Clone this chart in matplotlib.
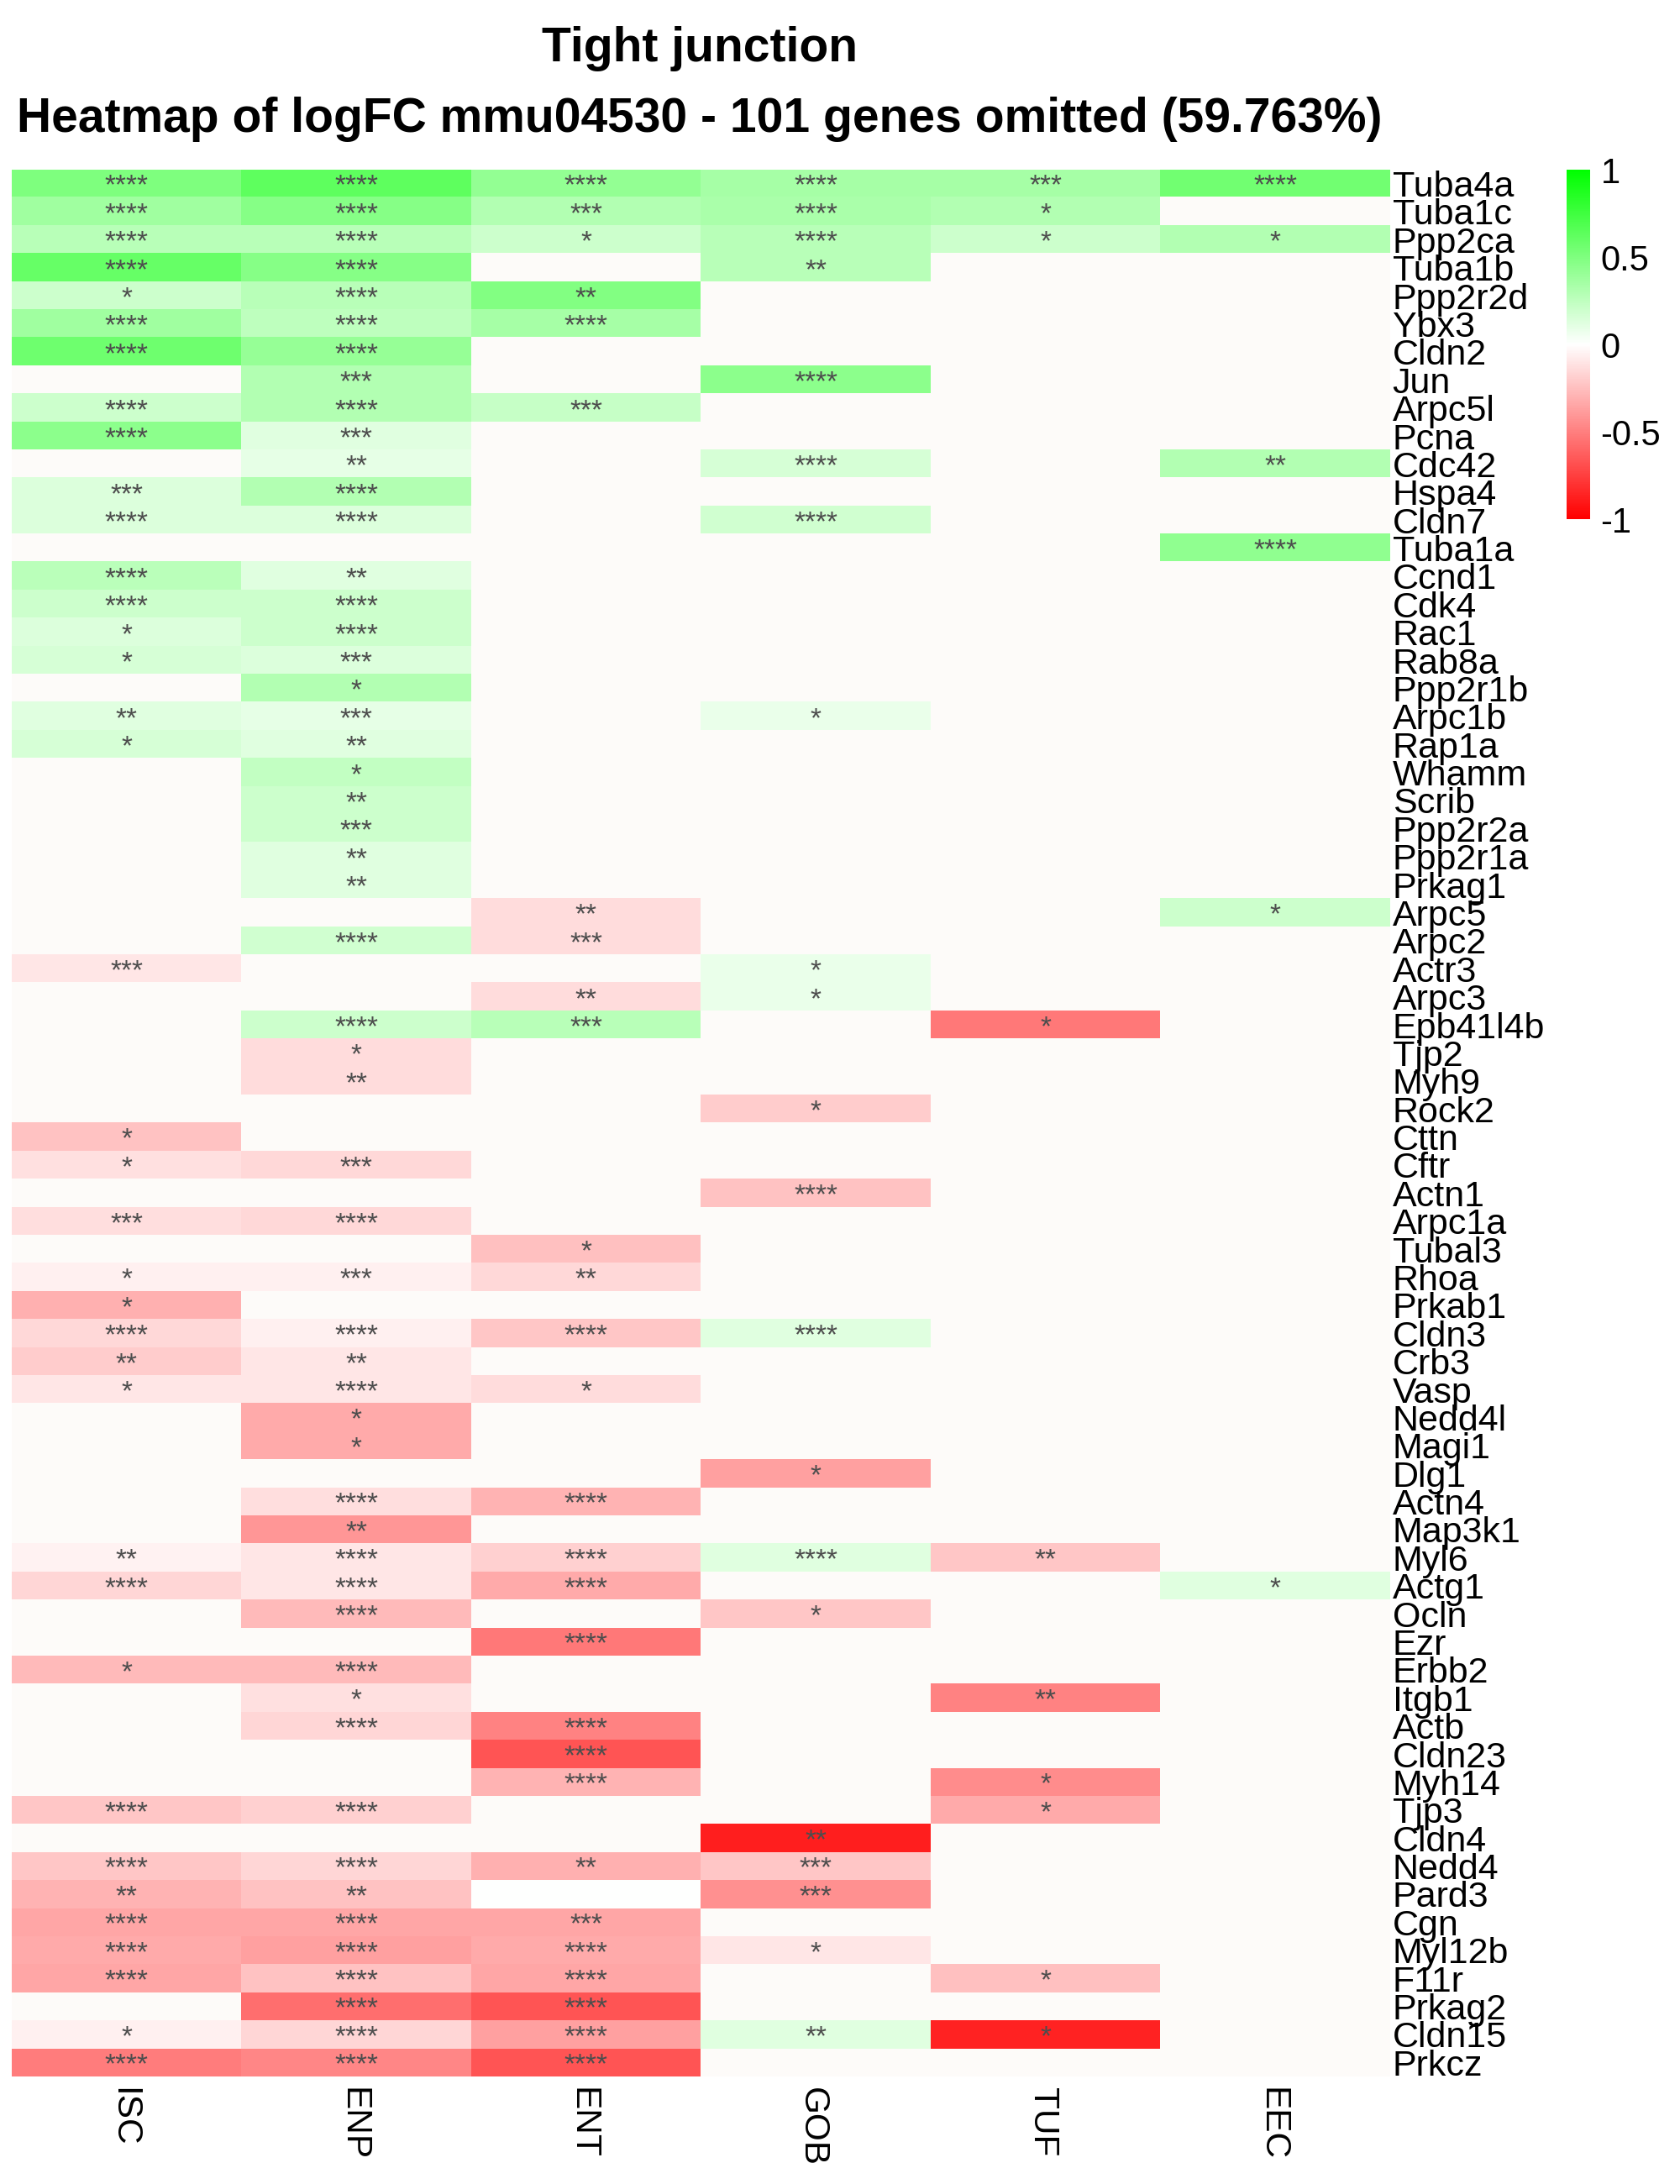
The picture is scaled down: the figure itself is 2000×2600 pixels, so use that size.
import numpy as np
import matplotlib
matplotlib.use('Agg')
import matplotlib.pyplot as plt
from matplotlib.colors import LinearSegmentedColormap

plt.rcParams['font.family'] = ['Liberation Sans', 'DejaVu Sans']
plt.rcParams['axes.unicode_minus'] = False

nan = np.nan

# KEGG tight junction genes, top to bottom
genes = ['Tuba4a', 'Tuba1c', 'Ppp2ca', 'Tuba1b', 'Ppp2r2d', 'Ybx3', 'Cldn2', 'Jun', 'Arpc5l', 'Pcna',
         'Cdc42', 'Hspa4', 'Cldn7', 'Tuba1a', 'Ccnd1', 'Cdk4', 'Rac1', 'Rab8a', 'Ppp2r1b', 'Arpc1b',
         'Rap1a', 'Whamm', 'Scrib', 'Ppp2r2a', 'Ppp2r1a', 'Prkag1', 'Arpc5', 'Arpc2', 'Actr3', 'Arpc3',
         'Epb41l4b', 'Tjp2', 'Myh9', 'Rock2', 'Cttn', 'Cftr', 'Actn1', 'Arpc1a', 'Tubal3', 'Rhoa',
         'Prkab1', 'Cldn3', 'Crb3', 'Vasp', 'Nedd4l', 'Magi1', 'Dlg1', 'Actn4', 'Map3k1', 'Myl6',
         'Actg1', 'Ocln', 'Ezr', 'Erbb2', 'Itgb1', 'Actb', 'Cldn23', 'Myh14', 'Tjp3', 'Cldn4',
         'Nedd4', 'Pard3', 'Cgn', 'Myl12b', 'F11r', 'Prkag2', 'Cldn15', 'Prkcz']

cell_types = ['ISC', 'ENP', 'ENT', 'GOB', 'TUF', 'EEC']

# logFC per cell type (nan = not significant)
isc = [0.50, 0.37, 0.28, 0.60, 0.20, 0.37, 0.57, nan, 0.20, 0.45,
       nan, 0.14, 0.14, nan, 0.27, 0.20, 0.14, 0.16, nan, 0.12,
       0.16, nan, nan, nan, nan, nan, nan, nan, -0.10, nan,
       nan, nan, nan, nan, -0.24, -0.12, nan, -0.13, nan, -0.06,
       -0.31, -0.15, -0.20, -0.10, nan, nan, nan, nan, nan, -0.05,
       -0.16, nan, nan, -0.27, nan, nan, nan, nan, -0.22, nan,
       -0.22, -0.29, -0.35, -0.33, -0.35, nan, -0.06, -0.51]
enp = [0.63, 0.47, 0.28, 0.47, 0.28, 0.25, 0.41, 0.30, 0.30, 0.12,
       0.10, 0.30, 0.14, nan, 0.12, 0.20, 0.20, 0.14, 0.30, 0.10,
       0.12, 0.24, 0.20, 0.20, 0.12, 0.12, nan, 0.18, nan, nan,
       0.20, -0.14, -0.14, nan, nan, -0.15, nan, -0.15, nan, -0.06,
       nan, -0.06, -0.10, -0.10, -0.33, -0.33, nan, -0.13, -0.41, -0.10,
       -0.10, -0.27, nan, -0.27, -0.12, -0.16, nan, nan, -0.18, nan,
       -0.16, -0.24, -0.35, -0.37, -0.24, -0.57, -0.16, -0.47]
ent = [0.42, 0.30, 0.20, nan, 0.49, 0.35, nan, nan, 0.22, nan,
       nan, nan, nan, nan, nan, nan, nan, nan, nan, nan,
       nan, nan, nan, nan, nan, nan, -0.14, -0.14, nan, -0.14,
       0.28, nan, nan, nan, nan, nan, nan, nan, -0.25, -0.15,
       nan, -0.22, nan, -0.14, nan, nan, nan, -0.29, nan, -0.18,
       -0.33, nan, -0.53, nan, nan, -0.49, -0.67, -0.29, nan, nan,
       -0.31, 0.0, -0.35, -0.33, -0.35, -0.67, -0.37, -0.67]
gob = [0.35, 0.33, 0.28, 0.28, nan, nan, nan, 0.45, nan, nan,
       0.16, nan, 0.18, nan, nan, nan, nan, nan, nan, 0.08,
       nan, nan, nan, nan, nan, nan, nan, nan, 0.08, 0.08,
       nan, nan, nan, -0.20, nan, nan, -0.24, nan, nan, nan,
       nan, 0.12, nan, nan, nan, nan, -0.37, nan, nan, 0.12,
       nan, -0.22, nan, nan, nan, nan, nan, nan, nan, -0.88,
       -0.22, -0.43, nan, -0.10, nan, nan, 0.12, nan]
tuf = [0.35, 0.30, 0.20, nan, nan, nan, nan, nan, nan, nan,
       nan, nan, nan, nan, nan, nan, nan, nan, nan, nan,
       nan, nan, nan, nan, nan, nan, nan, nan, nan, nan,
       -0.53, nan, nan, nan, nan, nan, nan, nan, nan, nan,
       nan, nan, nan, nan, nan, nan, nan, nan, nan, -0.22,
       nan, nan, nan, nan, -0.49, nan, nan, -0.45, -0.33, nan,
       nan, nan, nan, nan, -0.25, nan, -0.86, nan]
eec = [0.55, nan, 0.30, nan, nan, nan, nan, nan, nan, nan,
       0.30, nan, nan, 0.43, nan, nan, nan, nan, nan, nan,
       nan, nan, nan, nan, nan, nan, 0.20, nan, nan, nan,
       nan, nan, nan, nan, nan, nan, nan, nan, nan, nan,
       nan, nan, nan, nan, nan, nan, nan, nan, nan, nan,
       0.12, nan, nan, nan, nan, nan, nan, nan, nan, nan,
       nan, nan, nan, nan, nan, nan, nan, nan]

# significance stars
isc_sig = ['****', '****', '****', '****', '*', '****', '****', '', '****', '****',
           '', '***', '****', '', '****', '****', '*', '*', '', '**',
           '*', '', '', '', '', '', '', '', '***', '',
           '', '', '', '', '*', '*', '', '***', '', '*',
           '*', '****', '**', '*', '', '', '', '', '', '**',
           '****', '', '', '*', '', '', '', '', '****', '',
           '****', '**', '****', '****', '****', '', '*', '****']
enp_sig = ['****', '****', '****', '****', '****', '****', '****', '***', '****', '***',
           '**', '****', '****', '', '**', '****', '****', '***', '*', '***',
           '**', '*', '**', '***', '**', '**', '', '****', '', '',
           '****', '*', '**', '', '', '***', '', '****', '', '***',
           '', '****', '**', '****', '*', '*', '', '****', '**', '****',
           '****', '****', '', '****', '*', '****', '', '', '****', '',
           '****', '**', '****', '****', '****', '****', '****', '****']
ent_sig = ['****', '***', '*', '', '**', '****', '', '', '***', '',
           '', '', '', '', '', '', '', '', '', '',
           '', '', '', '', '', '', '**', '***', '', '**',
           '***', '', '', '', '', '', '', '', '*', '**',
           '', '****', '', '*', '', '', '', '****', '', '****',
           '****', '', '****', '', '', '****', '****', '****', '', '',
           '**', '', '***', '****', '****', '****', '****', '****']
gob_sig = ['****', '****', '****', '**', '', '', '', '****', '', '',
           '****', '', '****', '', '', '', '', '', '', '*',
           '', '', '', '', '', '', '', '', '*', '*',
           '', '', '', '*', '', '', '****', '', '', '',
           '', '****', '', '', '', '', '*', '', '', '****',
           '', '*', '', '', '', '', '', '', '', '**',
           '***', '***', '', '*', '', '', '**', '']
tuf_sig = ['***', '*', '*', '', '', '', '', '', '', '',
           '', '', '', '', '', '', '', '', '', '',
           '', '', '', '', '', '', '', '', '', '',
           '*', '', '', '', '', '', '', '', '', '',
           '', '', '', '', '', '', '', '', '', '**',
           '', '', '', '', '**', '', '', '*', '*', '',
           '', '', '', '', '*', '', '*', '']
eec_sig = ['****', '', '*', '', '', '', '', '', '', '',
           '**', '', '', '****', '', '', '', '', '', '',
           '', '', '', '', '', '', '*', '', '', '',
           '', '', '', '', '', '', '', '', '', '',
           '', '', '', '', '', '', '', '', '', '',
           '*', '', '', '', '', '', '', '', '', '',
           '', '', '', '', '', '', '', '']

values = np.column_stack([isc, enp, ent, gob, tuf, eec])
stars = list(zip(isc_sig, enp_sig, ent_sig, gob_sig, tuf_sig, eec_sig))
n_rows, n_cols = values.shape

cmap = LinearSegmentedColormap.from_list('rwg', ['#FF0000', '#FFFFFF', '#00FF00'], N=256)
cmap.set_bad('#FDFBF9')

fig = plt.figure(figsize=(20, 26), dpi=100)
ax = fig.add_axes([0.007, 0.0492, 0.8205, 0.8731])
im = ax.imshow(np.ma.masked_invalid(values), cmap=cmap, vmin=-1, vmax=1,
               aspect='auto', interpolation='nearest')
ax.set_xlim(-0.5, n_cols - 0.5)
ax.set_ylim(n_rows - 0.5, -0.5)
ax.set_axis_off()

for i in range(n_rows):
    for j in range(n_cols):
        if stars[i][j]:
            ax.text(j, i + 0.36, stars[i][j], ha='center', va='baseline',
                    fontsize=24, color='#4D4D4D')
    ax.text(n_cols - 0.49, i + 0.46, genes[i], ha='left', va='baseline', fontsize=31)

for j, ct in enumerate(cell_types):
    ax.text(j - 0.015, n_rows - 0.1, ct, rotation=270, ha='center', va='top', fontsize=30.5)

# colour key
cax = fig.add_axes([0.9325, 0.7623, 0.014, 0.16])
cb = fig.colorbar(im, cax=cax)
cb.set_ticks([-1, -0.5, 0, 0.5, 1])
cb.set_ticklabels(['-1', '-0.5', '0', '0.5', '1'])
cb.outline.set_visible(False)
cax.tick_params(length=0, pad=9, labelsize=30)

fig.text(0.4165, 0.9719, 'Tight junction', ha='center', va='baseline',
         fontsize=41, fontweight='bold')
fig.text(0.4165, 0.9396, 'Heatmap of logFC mmu04530 - 101 genes omitted (59.763%)',
         ha='center', va='baseline', fontsize=41, fontweight='bold')

fig.savefig('out.png', dpi=100, facecolor='white')
